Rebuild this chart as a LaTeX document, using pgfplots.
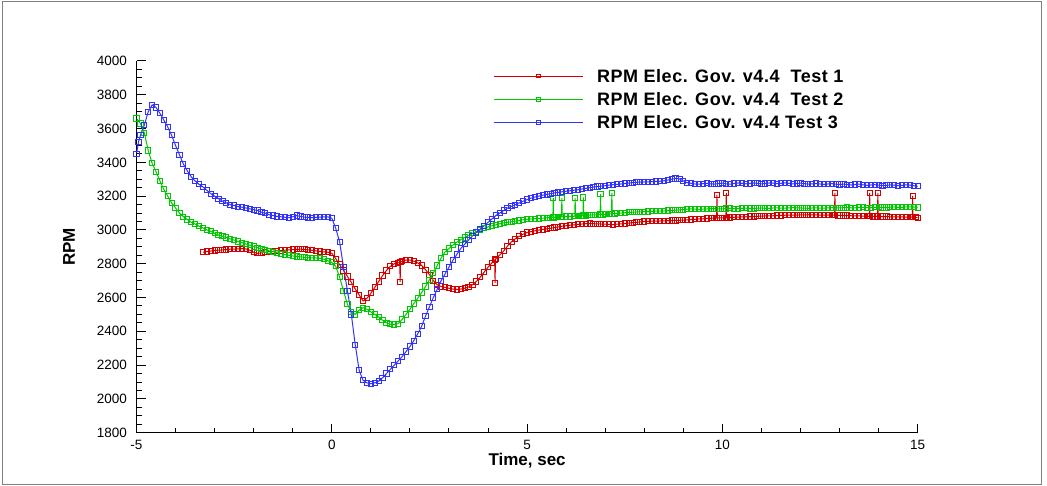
\documentclass[border=0pt]{standalone}
\usepackage{pgfplots}
\usepackage{pgfplotstable}
\pgfplotsset{compat=1.18}
\usepackage{fontspec}
\setmainfont{Liberation Sans}
\newfontfamily\legfont[LetterSpace=3]{Liberation Sans}
\definecolor{cred}{RGB}{212,0,0}
\definecolor{cgreen}{RGB}{0,200,0}
\definecolor{cblue}{RGB}{50,50,255}

\pgfplotstableread{
x y
-3.3 2868
-3.2 2872
-3.1 2875
-3.0 2878
-2.9 2880
-2.8 2882
-2.7 2884
-2.6 2886
-2.5 2887
-2.4 2888
-2.3 2889
-2.2 2888
-2.1 2880
-2.0 2868
-1.9 2862
-1.8 2864
-1.7 2868
-1.6 2872
-1.5 2874
-1.4 2876
-1.3 2878
-1.2 2880
-1.1 2882
-1.0 2884
-0.9 2885
-0.8 2886
-0.7 2885
-0.6 2882
-0.5 2879
-0.4 2876
-0.3 2873
-0.2 2870
-0.1 2868
0.0 2862
0.1 2830
0.2 2795
0.3 2760
0.4 2725
0.5 2690
0.6 2650
0.7 2615
0.8 2580
0.9 2595
1.0 2625
1.1 2660
1.2 2695
1.3 2730
1.4 2760
1.5 2785
1.6 2800
1.7 2805
1.74 2808
1.75 2693
1.76 2810
1.8 2815
1.9 2822
2.0 2822
2.1 2815
2.2 2805
2.3 2790
2.4 2765
2.5 2735
2.6 2700
2.7 2675
2.8 2665
2.9 2660
3.0 2655
3.1 2650
3.2 2648
3.3 2650
3.4 2655
3.5 2662
3.6 2675
3.7 2695
3.8 2720
3.9 2750
4.0 2780
4.1 2805
4.17 2822
4.18 2687
4.19 2826
4.2 2830
4.3 2852
4.4 2875
4.5 2905
4.6 2930
4.7 2948
4.8 2962
4.9 2975
5.0 2985
5.1 2990
5.2 2995
5.3 2999
5.4 3003
5.5 3007
5.6 3010
5.7 3014
5.8 3018
5.9 3022
6.0 3025
6.1 3028
6.2 3030
6.3 3033
6.4 3035
6.5 3037
6.6 3038
6.7 3037
6.8 3036
6.9 3035
7.0 3034
7.1 3033
7.2 3032
7.3 3034
7.4 3036
7.5 3038
7.6 3040
7.7 3043
7.8 3045
7.9 3048
8.0 3050
8.1 3051
8.2 3052
8.3 3052
8.4 3053
8.5 3054
8.6 3055
8.7 3056
8.8 3056
8.9 3057
9.0 3058
9.1 3060
9.2 3062
9.3 3063
9.4 3065
9.5 3066
9.6 3068
9.7 3069
9.8 3070
9.85 3070
9.86 3208
9.87 3070
9.9 3071
10.0 3072
10.09 3072
10.10 3220
10.11 3072
10.2 3074
10.3 3075
10.4 3076
10.5 3077
10.6 3078
10.7 3079
10.8 3080
10.9 3081
11.0 3082
11.1 3083
11.2 3084
11.3 3084
11.4 3085
11.5 3086
11.6 3087
11.7 3087
11.8 3088
11.9 3088
12.0 3089
12.1 3089
12.2 3090
12.3 3089
12.4 3089
12.5 3088
12.6 3088
12.7 3087
12.8 3087
12.87 3087
12.88 3220
12.89 3087
12.95 3086
13.0 3086
13.1 3085
13.2 3085
13.3 3084
13.4 3083
13.5 3083
13.6 3082
13.7 3081
13.76 3081
13.77 3220
13.78 3081
13.85 3080
13.9 3080
13.97 3080
13.98 3220
13.99 3080
14.05 3080
14.1 3079
14.2 3079
14.3 3078
14.4 3078
14.5 3077
14.6 3077
14.7 3076
14.8 3076
14.86 3076
14.87 3202
14.88 3076
14.95 3075
15.0 3072
}\redtab

\pgfplotstableread{
x y
-5.0 3660
-4.9 3630
-4.8 3575
-4.7 3470
-4.6 3395
-4.5 3345
-4.4 3290
-4.3 3240
-4.2 3200
-4.1 3160
-4.0 3130
-3.9 3100
-3.8 3078
-3.7 3062
-3.6 3046
-3.5 3035
-3.4 3022
-3.3 3012
-3.2 3000
-3.1 2992
-3.0 2980
-2.9 2970
-2.8 2963
-2.7 2955
-2.6 2947
-2.5 2940
-2.4 2932
-2.3 2925
-2.2 2917
-2.1 2910
-2.0 2902
-1.9 2895
-1.8 2888
-1.7 2882
-1.6 2876
-1.5 2870
-1.4 2865
-1.3 2860
-1.2 2855
-1.1 2850
-1.0 2846
-0.9 2843
-0.8 2840
-0.7 2838
-0.6 2836
-0.5 2835
-0.4 2834
-0.3 2832
-0.2 2826
-0.1 2818
0.0 2808
0.1 2785
0.2 2720
0.3 2640
0.4 2560
0.5 2515
0.6 2500
0.7 2525
0.8 2540
0.9 2530
1.0 2515
1.1 2500
1.2 2485
1.3 2465
1.4 2450
1.5 2442
1.6 2440
1.7 2445
1.8 2470
1.9 2500
2.0 2530
2.1 2565
2.2 2595
2.3 2630
2.4 2665
2.5 2705
2.6 2745
2.7 2790
2.8 2835
2.9 2870
3.0 2890
3.1 2910
3.2 2928
3.3 2942
3.4 2955
3.5 2968
3.6 2980
3.7 2990
3.8 3000
3.9 3010
4.0 3018
4.1 3025
4.2 3030
4.3 3037
4.4 3042
4.5 3045
4.6 3048
4.7 3052
4.8 3056
4.9 3060
5.0 3063
5.1 3065
5.2 3067
5.3 3068
5.4 3070
5.5 3072
5.6 3073
5.66 3074
5.67 3188
5.68 3074
5.7 3075
5.8 3076
5.88 3077
5.89 3188
5.90 3077
6.0 3079
6.1 3080
6.2 3081
6.22 3082
6.23 3188
6.24 3082
6.3 3083
6.4 3084
6.43 3085
6.44 3192
6.45 3085
6.5 3086
6.6 3088
6.7 3089
6.8 3090
6.87 3091
6.88 3212
6.89 3091
6.95 3092
7.0 3093
7.1 3095
7.16 3096
7.17 3218
7.18 3096
7.25 3097
7.3 3098
7.4 3100
7.5 3102
7.6 3104
7.7 3105
7.8 3106
7.9 3107
8.0 3108
8.1 3109
8.2 3110
8.3 3111
8.4 3112
8.5 3113
8.6 3115
8.7 3116
8.8 3117
8.9 3119
9.0 3120
9.1 3123
9.2 3125
9.3 3123
9.4 3122
9.5 3123
9.6 3124
9.7 3126
9.8 3126
9.9 3124
10.0 3125
10.1 3127
10.2 3128
10.3 3126
10.4 3126
10.5 3128
10.6 3129
10.7 3127
10.8 3127
10.9 3129
11.0 3130
11.1 3128
11.2 3128
11.3 3130
11.4 3131
11.5 3129
11.6 3129
11.7 3131
11.8 3132
11.9 3130
12.0 3130
12.1 3129
12.2 3128
12.3 3130
12.4 3131
12.5 3129
12.6 3129
12.7 3131
12.8 3132
12.9 3130
13.0 3130
13.1 3132
13.2 3133
13.3 3131
13.4 3131
13.5 3133
13.6 3134
13.7 3132
13.8 3132
13.9 3134
14.0 3135
14.1 3133
14.2 3133
14.3 3135
14.4 3136
14.5 3134
14.6 3134
14.7 3136
14.8 3137
14.9 3135
15.0 3133
}\greentab

\pgfplotstableread{
x y
-5.0 3450
-4.95 3520
-4.9 3560
-4.8 3620
-4.7 3700
-4.6 3740
-4.5 3725
-4.4 3690
-4.3 3650
-4.2 3610
-4.1 3560
-4.0 3500
-3.9 3445
-3.8 3390
-3.7 3350
-3.6 3315
-3.5 3290
-3.4 3270
-3.3 3255
-3.2 3235
-3.1 3215
-3.0 3200
-2.9 3185
-2.8 3170
-2.7 3160
-2.6 3150
-2.5 3145
-2.4 3138
-2.3 3135
-2.2 3130
-2.1 3125
-2.0 3120
-1.9 3115
-1.8 3105
-1.7 3098
-1.6 3090
-1.5 3085
-1.4 3080
-1.3 3078
-1.2 3075
-1.1 3073
-1.0 3078
-0.9 3085
-0.8 3080
-0.7 3076
-0.6 3074
-0.5 3073
-0.4 3075
-0.3 3076
-0.2 3078
-0.1 3077
0.0 3070
0.1 3010
0.2 2930
0.3 2780
0.4 2640
0.5 2500
0.6 2320
0.7 2170
0.8 2110
0.9 2095
1.0 2090
1.1 2095
1.2 2105
1.3 2125
1.4 2150
1.5 2175
1.6 2200
1.7 2225
1.8 2250
1.9 2280
2.0 2310
2.1 2345
2.2 2385
2.3 2430
2.4 2490
2.5 2545
2.6 2600
2.7 2650
2.8 2700
2.9 2740
3.0 2780
3.1 2820
3.2 2855
3.3 2890
3.4 2915
3.5 2940
3.6 2965
3.7 2985
3.8 3005
3.9 3025
4.0 3045
4.1 3065
4.2 3085
4.3 3100
4.4 3115
4.5 3130
4.6 3140
4.7 3150
4.8 3160
4.9 3170
5.0 3180
5.1 3188
5.2 3195
5.3 3200
5.4 3206
5.5 3210
5.6 3215
5.7 3219
5.8 3222
5.9 3226
6.0 3229
6.1 3232
6.2 3235
6.3 3238
6.4 3242
6.5 3246
6.6 3250
6.7 3254
6.8 3257
6.9 3259
7.0 3262
7.1 3265
7.2 3268
7.3 3270
7.4 3272
7.5 3275
7.6 3277
7.7 3280
7.8 3282
7.9 3283
8.0 3284
8.1 3285
8.2 3286
8.3 3287
8.4 3288
8.5 3291
8.6 3295
8.7 3300
8.8 3305
8.9 3302
9.0 3290
9.1 3280
9.2 3276
9.3 3272
9.4 3271
9.5 3274
9.6 3276
9.7 3273
9.8 3271
9.9 3275
10.0 3277
10.1 3273
10.2 3271
10.3 3275
10.4 3278
10.5 3276
10.6 3273
10.7 3275
10.8 3278
10.9 3276
11.0 3273
11.1 3275
11.2 3278
11.3 3277
11.4 3274
11.5 3276
11.6 3279
11.7 3276
11.8 3273
11.9 3275
12.0 3277
12.1 3274
12.2 3271
12.3 3273
12.4 3275
12.5 3272
12.6 3270
12.7 3272
12.8 3274
12.9 3271
13.0 3269
13.1 3271
13.2 3268
13.3 3266
13.4 3269
13.5 3271
13.6 3267
13.7 3264
13.8 3266
13.9 3268
14.0 3265
14.1 3262
14.2 3264
14.3 3267
14.4 3265
14.5 3262
14.6 3264
14.7 3267
14.8 3265
14.9 3262
15.0 3258
}\bluetab

\begin{document}
\begin{tikzpicture}[x=1pt,y=1pt]
\path (0,0) rectangle (1047,486);
\draw[color={rgb,255:red,128;green,128;blue,128}, line width=1.2pt] (2.2,1.2) rectangle (1041.8,484.8);
\begin{axis}[
  at={(136.5pt,53.3pt)}, anchor=south west,
  scale only axis, width=781.2pt, height=371.7pt,
  xmin=-5, xmax=15, ymin=1800, ymax=4000,
  xtick={-5,0,5,10,15}, ytick={1800,2000,...,4000},
  minor x tick num=4, minor y tick num=3,
  axis x line*=bottom, axis y line*=left,
  axis line style={line width=1.4pt, black},
  tick align=inside,
  major tick length=9pt, minor tick length=5pt,
  every tick/.style={black, line width=1pt},
  /pgf/number format/assume math mode=true,
  /pgf/number format/1000 sep={},
  tick label style={font=\fontsize{13.5}{16}\selectfont, inner sep=0pt},
  yticklabel style={xshift=-9.5pt},
  xticklabel style={yshift=-7pt},
  xlabel={Time, sec}, ylabel={RPM},
  every axis x label/.style={at={(axis description cs:0.5,0)}, anchor=north, yshift=-20pt, inner sep=0pt, font=\fontsize{17}{20}\selectfont\bfseries},
  every axis y label/.style={at={(axis description cs:0,0.5)}, rotate=90, anchor=south, yshift=61.5pt, inner sep=0pt, font=\fontsize{17}{20}\selectfont\bfseries},
  legend style={at={(axis description cs:0.4564,0.9777)}, anchor=north west, draw=none, fill=none, inner sep=0pt,
    row sep=10.3pt, font=\fontsize{18}{20}\legfont\bfseries,
    nodes={inner sep=0pt, text height=12.9pt, text depth=0pt},
    /tikz/every odd column/.append style={column sep=14pt}},
  legend cell align=left,
  legend image code/.code={\draw[mark repeat=2,mark phase=2,#1, line width=0.8pt, mark size=1.9pt, mark options={line width=0.7pt}] plot coordinates {(0pt,0pt) (44.5pt,0pt) (89pt,0pt)};},
]
\addplot[color=cred, line width=1pt, mark=square, mark size=2.6pt, mark options={solid, line width=1pt}] table {\redtab};
\addlegendentry{RPM Elec. Gov. v4.4\ \ Test 1}
\addplot[color=cgreen, line width=1pt, mark=square, mark size=2.6pt, mark options={solid, line width=1pt}] table {\greentab};
\addlegendentry{RPM Elec. Gov. v4.4\ \ Test 2}
\addplot[color=cblue, line width=1pt, mark=square, mark size=2.6pt, mark options={solid, line width=1pt}] table {\bluetab};
\addlegendentry{RPM Elec. Gov. v4.4 Test 3}
\end{axis}
\end{tikzpicture}
\end{document}
